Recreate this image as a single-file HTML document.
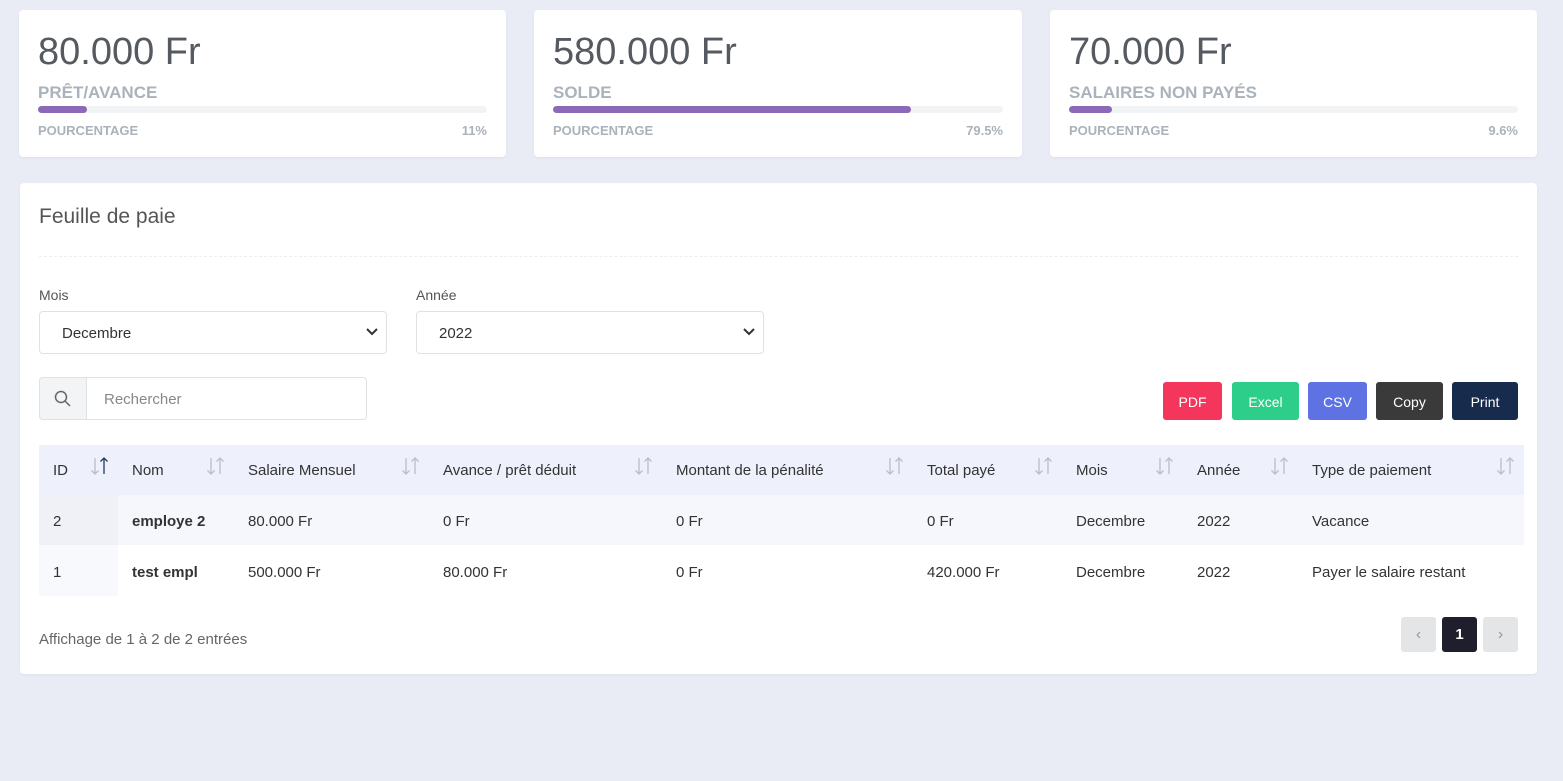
<!DOCTYPE html><html><head><meta charset="utf-8"><style>
*{box-sizing:border-box;margin:0;padding:0}
body{width:1563px;height:781px;background:#e9ebf5;font-family:"Liberation Sans",sans-serif;color:#525f7f;position:relative;overflow:hidden}
.a{position:absolute}
.card{position:absolute;background:#fff;border-radius:4px;box-shadow:0 1px 2px rgba(0,0,0,.05)}
.big{position:absolute;left:19px;top:21px;font-size:38px;color:#555a60;white-space:nowrap}
.lbl{position:absolute;left:19px;top:73px;font-size:17px;font-weight:bold;color:#aab2bb}
.bar{position:absolute;left:19px;right:19px;top:96px;height:7px;background:#f2f3f5;border-radius:4px}
.bar i{display:block;height:7px;background:#8b69b7;border-radius:4px}
.pc{position:absolute;left:19px;right:19px;top:113px;font-size:13px;font-weight:bold;color:#aab2bb}
.pc span{float:right}
.sel{position:absolute;height:43px;border:1px solid #dee2e6;border-radius:4px;background:#fff;font-size:15px;color:#333;padding:13px 22px}
.sel svg{position:absolute;right:8px;top:16px}
.btn{position:absolute;top:382px;height:38px;border-radius:3px;color:#fff;font-size:14px;text-align:center;line-height:40px}
.t{position:absolute;font-size:15px;color:#333;white-space:nowrap}
.s{position:absolute;top:457px}
.pg{position:absolute;top:617px;width:35px;height:35px;border-radius:3px;background:#e4e5e7;color:#999;text-align:center;line-height:35px;font-size:16px}
</style></head><body>
<svg width="0" height="0" style="position:absolute"><defs>
<g id="srt" fill="none" stroke-width="1.3"><path d="M4 1V17M0.5 13.5L4 17L7.5 13.5" stroke="#b9bec8"/><path d="M13 17V1M9.5 4.5L13 1L16.5 4.5" stroke="#b9bec8"/></g>
<g id="srt2" fill="none" stroke-width="1.3"><path d="M4 1V17M0.5 13.5L4 17L7.5 13.5" stroke="#b9bec8"/><path d="M13 17V1M9.5 4.5L13 1L16.5 4.5" stroke="#1f3b66"/></g>
<path id="chev" d="M1 1L6 6L11 1" fill="none" stroke="#333" stroke-width="2"/>
</defs></svg>
<div class="card" style="left:19px;top:10px;width:487px;height:147px"><div class="big">80.000 Fr</div><div class="lbl">PRÊT/AVANCE</div><div class="bar"><i style="width:11%"></i></div><div class="pc">POURCENTAGE<span>11%</span></div></div>
<div class="card" style="left:534px;top:10px;width:488px;height:147px"><div class="big">580.000 Fr</div><div class="lbl">SOLDE</div><div class="bar"><i style="width:79.5%"></i></div><div class="pc">POURCENTAGE<span>79.5%</span></div></div>
<div class="card" style="left:1050px;top:10px;width:487px;height:147px"><div class="big">70.000 Fr</div><div class="lbl">SALAIRES NON PAYÉS</div><div class="bar"><i style="width:9.6%"></i></div><div class="pc">POURCENTAGE<span>9.6%</span></div></div>

<div class="card" style="left:20px;top:183px;width:1517px;height:491px"></div>
<div class="t" style="left:39px;top:205px;font-size:21px;color:#555">Feuille de paie</div>
<div class="a" style="left:39px;top:256px;width:1479px;border-top:1px dashed #eceef2"></div>
<div class="t" style="left:39px;top:287px;font-size:14px;color:#555">Mois</div>
<div class="t" style="left:416px;top:287px;font-size:14px;color:#555">Année</div>
<div class="sel" style="left:39px;top:311px;width:348px">Decembre<svg width="12" height="8"><use href="#chev"/></svg></div>
<div class="sel" style="left:416px;top:311px;width:348px">2022<svg width="12" height="8"><use href="#chev"/></svg></div>
<div class="a" style="left:39px;top:377px;width:328px;height:43px;border:1px solid #dee2e6;border-radius:4px;background:#fff"></div>
<div class="a" style="left:39px;top:377px;width:48px;height:43px;border:1px solid #dee2e6;border-radius:4px 0 0 4px;background:#f3f4f6"></div>
<svg class="a" style="left:54px;top:390px" width="18" height="18"><circle cx="7" cy="7" r="5.5" fill="none" stroke="#666" stroke-width="1.5"/><line x1="11" y1="11" x2="16" y2="16" stroke="#666" stroke-width="1.5"/></svg>
<div class="t" style="left:104px;top:391px;color:#888">Rechercher</div>
<div class="btn" style="left:1163px;width:59px;background:#f5365c">PDF</div>
<div class="btn" style="left:1232px;width:67px;background:#2dce89">Excel</div>
<div class="btn" style="left:1308px;width:59px;background:#5e72e4">CSV</div>
<div class="btn" style="left:1376px;width:67px;background:#3a3a3a">Copy</div>
<div class="btn" style="left:1452px;width:66px;background:#172b4d">Print</div>

<div class="a" style="left:39px;top:445px;width:1485px;height:50px;background:#eef0fc"></div>
<div class="a" style="left:39px;top:495px;width:1485px;height:50px;background:#f6f7fc"></div>
<div class="a" style="left:39px;top:495px;width:79px;height:50px;background:#eff1f6"></div>
<div class="a" style="left:39px;top:545px;width:79px;height:51px;background:#f8f9fc"></div>

<div class="t" style="left:53px;top:462px">ID</div>
<div class="t" style="left:132px;top:462px">Nom</div>
<div class="t" style="left:248px;top:462px">Salaire Mensuel</div>
<div class="t" style="left:443px;top:462px">Avance / prêt déduit</div>
<div class="t" style="left:676px;top:462px">Montant de la pénalité</div>
<div class="t" style="left:927px;top:462px">Total payé</div>
<div class="t" style="left:1076px;top:462px">Mois</div>
<div class="t" style="left:1197px;top:462px">Année</div>
<div class="t" style="left:1312px;top:462px">Type de paiement</div>
<svg class="s" style="left:91px" width="18" height="18"><use href="#srt2"/></svg>
<svg class="s" style="left:207px" width="18" height="18"><use href="#srt"/></svg>
<svg class="s" style="left:402px" width="18" height="18"><use href="#srt"/></svg>
<svg class="s" style="left:635px" width="18" height="18"><use href="#srt"/></svg>
<svg class="s" style="left:886px" width="18" height="18"><use href="#srt"/></svg>
<svg class="s" style="left:1035px" width="18" height="18"><use href="#srt"/></svg>
<svg class="s" style="left:1156px" width="18" height="18"><use href="#srt"/></svg>
<svg class="s" style="left:1271px" width="18" height="18"><use href="#srt"/></svg>
<svg class="s" style="left:1497px" width="18" height="18"><use href="#srt"/></svg>

<div class="t" style="left:53px;top:513px">2</div>
<div class="t" style="left:132px;top:513px;font-weight:bold">employe 2</div>
<div class="t" style="left:248px;top:513px">80.000 Fr</div>
<div class="t" style="left:443px;top:513px">0 Fr</div>
<div class="t" style="left:676px;top:513px">0 Fr</div>
<div class="t" style="left:927px;top:513px">0 Fr</div>
<div class="t" style="left:1076px;top:513px">Decembre</div>
<div class="t" style="left:1197px;top:513px">2022</div>
<div class="t" style="left:1312px;top:513px">Vacance</div>

<div class="t" style="left:53px;top:564px">1</div>
<div class="t" style="left:132px;top:564px;font-weight:bold">test empl</div>
<div class="t" style="left:248px;top:564px">500.000 Fr</div>
<div class="t" style="left:443px;top:564px">80.000 Fr</div>
<div class="t" style="left:676px;top:564px">0 Fr</div>
<div class="t" style="left:927px;top:564px">420.000 Fr</div>
<div class="t" style="left:1076px;top:564px">Decembre</div>
<div class="t" style="left:1197px;top:564px">2022</div>
<div class="t" style="left:1312px;top:564px">Payer le salaire restant</div>

<div class="t" style="left:39px;top:631px;color:#666">Affichage de 1 à 2 de 2 entrées</div>
<div class="pg" style="left:1401px">‹</div>
<div class="pg" style="left:1442px;background:#1e1e2d;color:#fff;font-weight:bold;font-size:15px">1</div>
<div class="pg" style="left:1483px">›</div>
</body></html>
